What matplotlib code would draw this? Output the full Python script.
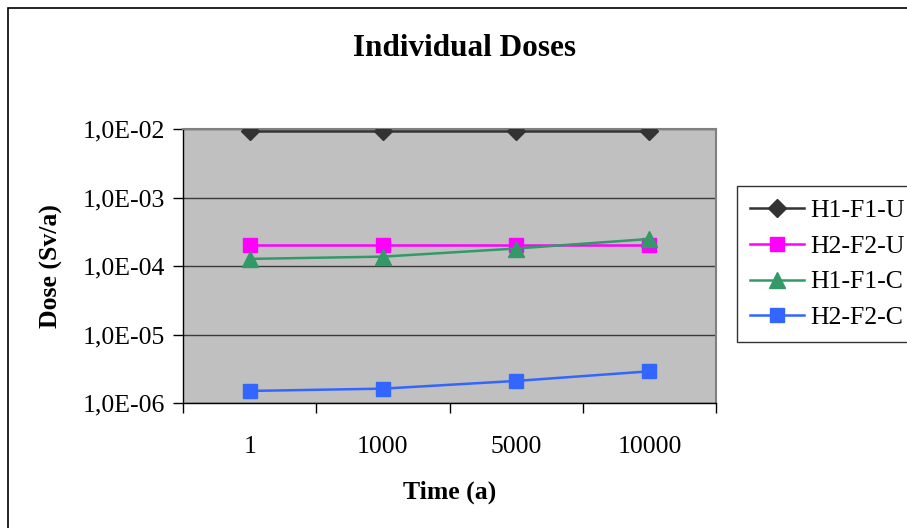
import numpy as np
import matplotlib
matplotlib.use("Agg")
import matplotlib.pyplot as plt
from matplotlib.patches import Rectangle

# datos
categorias = ['1', '1000', '5000', '10000']
h1_f1_u = [9.2e-3, 9.2e-3, 9.2e-3, 9.2e-3]
h2_f2_u = [2.0e-4, 2.0e-4, 2.0e-4, 2.0e-4]
h1_f1_c = [1.27e-4, 1.37e-4, 1.80e-4, 2.48e-4]
h2_f2_c = [1.50e-6, 1.62e-6, 2.10e-6, 2.90e-6]
y_ticks = [1e-6, 1e-5, 1e-4, 1e-3, 1e-2]
y_labels = ['1,0E-06', '1,0E-05', '1,0E-04', '1,0E-03', '1,0E-02']

series = [
    ('H1-F1-U', h1_f1_u, '#333333', 'D', 9),
    ('H2-F2-U', h2_f2_u, '#FF00FF', 's', 10),
    ('H1-F1-C', h1_f1_c, '#339966', '^', 11),
    ('H2-F2-C', h2_f2_c, '#3366FF', 's', 10),
]

plt.rcParams['font.family'] = ['Liberation Serif', 'DejaVu Serif']

fig = plt.figure(figsize=(9.07, 5.28), dpi=100)
ax = fig.add_axes([183 / 907, 1 - 403 / 528, (716 - 183) / 907, (403 - 129) / 528])
ax.set_facecolor('#C0C0C0')

# borde exterior del grafico (recortado a la derecha y abajo)
fig.patches.append(Rectangle((8 / 907, -0.1), 1.2, 1.1 - 8 / 528, transform=fig.transFigure,
                             fill=False, edgecolor='black', linewidth=1.2, zorder=0))

x = np.arange(len(categorias))
for nombre, valores, color, marcador, tam in series:
    ax.plot(x, valores, color=color, marker=marcador, markersize=tam, linewidth=1.8,
            markeredgecolor=color, label=nombre, zorder=3)

ax.set_yscale('log')
ax.set_ylim(1e-6, 1e-2)
ax.set_yticks(y_ticks)
ax.set_yticklabels(y_labels)
ax.yaxis.set_minor_locator(plt.NullLocator())
ax.grid(axis='y', color='#3a3a3a', linewidth=1, zorder=1)

ax.set_xlim(-0.5, len(categorias) - 0.5)
ax.set_xticks(np.arange(len(categorias) + 1) - 0.5)
ax.set_xticklabels([])
ax.set_xticks(x, minor=True)
ax.set_xticklabels(categorias, minor=True)
ax.tick_params(axis='x', which='minor', length=0, pad=24, labelsize=18.5)
ax.tick_params(axis='x', which='major', length=7, width=1, direction='out')
ax.tick_params(axis='y', length=7, width=1, direction='out', pad=6, labelsize=18.5)

for lado in ['top', 'right']:
    ax.spines[lado].set_color('#808080')
    ax.spines[lado].set_linewidth(1.5)
for lado in ['left', 'bottom']:
    ax.spines[lado].set_color('black')
    ax.spines[lado].set_linewidth(1)

ax.set_xlabel('Time (a)', fontsize=18.5, fontweight='bold', labelpad=16)
ax.set_ylabel('Dose (Sv/a)', fontsize=18.5, fontweight='bold', labelpad=14)
fig.text(465 / 907, 1 - 48 / 528, 'Individual Doses', ha='center', va='center',
         fontsize=22.5, fontweight='bold')

leg = ax.legend(loc='upper left', bbox_to_anchor=(737 / 907, 1 - 186 / 528),
                bbox_transform=fig.transFigure, fontsize=18.5, frameon=True,
                fancybox=False, handlelength=2.1, handletextpad=0.27,
                labelspacing=0.5, borderpad=0.5, borderaxespad=0)
leg.get_frame().set_edgecolor('black')
leg.get_frame().set_linewidth(1)

fig.savefig('out.png', dpi=100)
